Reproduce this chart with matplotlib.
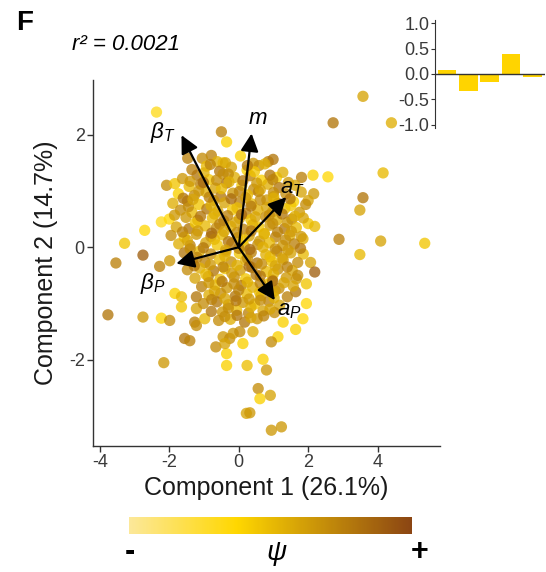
import matplotlib
matplotlib.use('Agg')
import matplotlib.pyplot as plt
from matplotlib.colors import LinearSegmentedColormap, Normalize
from matplotlib.cm import ScalarMappable

plt.rcParams['font.family'] = ['Liberation Sans', 'DejaVu Sans']
plt.rcParams['mathtext.fontset'] = 'custom'
plt.rcParams['mathtext.it'] = 'Liberation Sans:italic'
plt.rcParams['mathtext.rm'] = 'Liberation Sans'
plt.rcParams['mathtext.bf'] = 'Liberation Sans:bold'

# ---------------- data ----------------
# scattered (outer) samples
pc1_outer = [-2.37, -1.47, -2.08, -1.84, -2.23, -2.71, -3.29, -3.54, -2.76, -2.28,
             -1.99, -3.77, -2.76, -2.23, -1.99, -1.84, -1.56, -1.41, -2.16, -1.65,
             -1.65, -1.22, -1.22, -1.27, -1.22, -0.98, -0.79, -0.66, 1.95, 1.64,
             1.85, 1.64, 1.28, 1.13, 0.94, 0.70, 0.80, 0.24, -0.35, -0.35,
             0.12, 0.56, 0.61, 0.91, 0.22, 0.32, 0.94, 1.23, 0.41, -0.45,
             -0.26, -0.16, 0.03, -0.40, 3.58, 2.72, 4.40, 2.57, 4.16, 3.58,
             3.49, 2.89, 4.09, 5.36, 3.49, -0.50, -0.35, -0.79, -0.45, 0.85,
             0.99, 1.81, 2.14, 1.09, 2.16, 2.00, 2.00, 2.19, 1.85, 2.07,
             2.19, 1.95, 1.66]
pc2_outer = [2.40, 1.58, 1.10, 1.13, 0.45, 0.30, 0.07, -0.28, -0.14, -0.34,
             -0.24, -1.20, -1.24, -1.26, -1.30, -0.82, -1.62, -1.66, -2.05, -0.88,
             -1.06, -0.88, -1.09, -1.33, -1.39, -1.27, -1.14, -1.77, -1.00, -0.79,
             -1.27, -1.46, -1.33, -1.59, -1.68, -1.99, -2.18, -2.10, -2.10, -1.89,
             -1.71, -2.51, -2.69, -2.63, -2.95, -2.94, -3.25, -3.19, -1.50, -1.59,
             -1.62, -1.53, -1.50, -1.71, 2.68, 2.21, 2.21, 1.25, 1.32, 0.88,
             0.66, 0.14, 0.11, 0.07, -0.13, 2.05, 1.87, 1.63, 1.50, 1.52,
             1.56, 1.24, 1.28, 1.24, 0.95, 0.83, 0.42, 0.37, 0.15, -0.27,
             -0.44, -0.65, -0.56]
psi_outer = [0.20, 0.65, 0.60, 0.35, 0.20, 0.25, 0.35, 0.65, 0.80, 0.65,
             0.55, 0.70, 0.55, 0.25, 0.60, 0.30, 0.70, 0.65, 0.55, 0.40,
             0.35, 0.70, 0.50, 0.65, 0.60, 0.40, 0.70, 0.60, 0.25, 0.70,
             0.25, 0.30, 0.30, 0.30, 0.60, 0.30, 0.55, 0.38, 0.30, 0.30,
             0.30, 0.60, 0.30, 0.50, 0.50, 0.55, 0.55, 0.55, 0.45, 0.55,
             0.60, 0.55, 0.60, 0.50, 0.50, 0.70, 0.45, 0.25, 0.40, 0.70,
             0.50, 0.65, 0.50, 0.35, 0.40, 0.65, 0.30, 0.65, 0.30, 0.65,
             0.70, 0.65, 0.30, 0.30, 0.55, 0.50, 0.35, 0.40, 0.45, 0.50,
             0.80, 0.35, 0.55]

# dense central cloud
pc1_core = [-1.05, -0.62, 0.05, 0.42,
            -1.35, -0.93, -0.55, -0.21, 0.24, 0.58, 1.27,
            -1.62, -1.20, -0.86, -0.45, -0.12, 0.33, 0.66, 1.43,
            -1.43, -1.10, -0.68, -0.35, 0.09, 0.43, 0.84, 1.16, 1.62,
            -1.74, -1.28, -0.94, -0.52, -0.17, 0.25, 0.57, 1.01, 1.36, 1.80,
            -1.90, -1.48, -1.15, -0.72, -0.41, 0.03, 0.37, 0.81, 1.13, 1.58, 1.93,
            -1.68, -1.35, -0.92, -0.60, -0.18, 0.21, 0.55, 0.97, 1.33, 1.75,
            -2.00, -1.52, -1.18, -0.76, -0.43, 0.02, 0.35, 0.78, 1.10, 1.53, 1.86,
            -1.80, -1.43, -0.97, -0.65, -0.23, 0.13, 0.58, 0.90, 1.32, 1.66,
            -1.95, -1.57, -1.22, -0.80, -0.47, -0.03, 0.30, 0.73, 1.06, 1.47, 1.80,
            -1.73, -1.40, -0.95, -0.62, -0.20, 0.16, 0.55, 0.88, 1.27, 1.60,
            -1.57, -1.13, -0.80, -0.37, 0.02, 0.36, 0.78, 1.10, 1.50, 1.86,
            -1.33, -0.97, -0.55, -0.22, 0.20, 0.53, 0.95, 1.28, 1.70,
            -1.48, -1.12, -0.73, -0.40, 0.04, 0.38, 0.80, 1.13, 1.54,
            -1.26, -0.88, -0.54, -0.13, 0.20, 0.62, 0.96, 1.37,
            -1.07, -0.68, -0.34, 0.07, 0.40, 0.82, 1.16, 1.57,
            -0.86, -0.52, -0.10, 0.23, 0.64, 0.98, 1.40,
            -1.02, -0.63, -0.30, 0.12, 0.46, 0.87, 1.18,
            -0.47, -0.06, 0.28, 0.70, 1.03,
            -0.58, -0.24, 0.17, 0.53,
            -1.00, -0.30, 0.45, 0.90,
            -1.15, -0.50, 0.02, 0.62, 1.00,
            -1.45, -0.80, -0.05, 0.35, 0.80, 1.50,
            -1.25, -0.55, -0.10, 0.40, 0.98, 1.40,
            -1.48, -0.70, -0.30, 0.12, 0.60, 1.35,
            -1.20, -0.40, 0.25, 0.90, 1.25,
            -0.95, -0.20, 0.50, 1.00, 1.70,
            -0.70, 0.00, 0.60, 1.05,
            -0.30, 0.35, 0.90]
pc2_core = [1.58, 1.52, 1.62, 1.49,
            1.38, 1.44, 1.35, 1.42, 1.37, 1.45, 1.33,
            1.22, 1.28, 1.20, 1.30, 1.24, 1.27, 1.19, 1.15,
            1.08, 1.12, 1.05, 1.14, 1.10, 1.03, 1.12, 1.06, 1.10,
            0.95, 0.92, 0.98, 0.90, 0.96, 0.93, 0.99, 0.90, 0.95, 0.98,
            0.78, 0.82, 0.76, 0.83, 0.79, 0.80, 0.77, 0.84, 0.78, 0.81, 0.76,
            0.66, 0.62, 0.68, 0.64, 0.67, 0.60, 0.66, 0.63, 0.69, 0.62,
            0.50, 0.53, 0.48, 0.52, 0.47, 0.51, 0.49, 0.54, 0.48, 0.50, 0.52,
            0.36, 0.33, 0.38, 0.34, 0.37, 0.32, 0.36, 0.39, 0.33, 0.35,
            0.21, 0.18, 0.23, 0.19, 0.22, 0.17, 0.20, 0.24, 0.18, 0.21, 0.19,
            0.06, 0.03, 0.08, 0.04, 0.07, 0.02, 0.05, 0.08, 0.03, 0.06,
            -0.10, -0.07, -0.12, -0.08, -0.11, -0.09, -0.13, -0.07, -0.10, -0.12,
            -0.24, -0.27, -0.22, -0.26, -0.23, -0.28, -0.25, -0.22, -0.27,
            -0.40, -0.37, -0.42, -0.38, -0.41, -0.36, -0.43, -0.39, -0.41,
            -0.55, -0.52, -0.57, -0.53, -0.56, -0.51, -0.58, -0.54,
            -0.70, -0.67, -0.72, -0.68, -0.71, -0.66, -0.73, -0.69,
            -0.85, -0.82, -0.87, -0.83, -0.86, -0.81, -0.88,
            -1.00, -0.97, -1.02, -0.98, -1.01, -0.96, -1.03,
            -1.15, -1.12, -1.17, -1.13, -1.16,
            -1.30, -1.28, -1.33, -1.27,
            1.32, 1.30, 1.34, 1.28,
            1.00, 1.04, 0.99, 1.02, 0.97,
            0.72, 0.74, 0.70, 0.73, 0.71, 0.74,
            0.43, 0.41, 0.44, 0.40, 0.42, 0.44,
            0.12, 0.14, 0.10, 0.13, 0.11, 0.13,
            -0.18, -0.16, -0.20, -0.17, -0.19,
            -0.48, -0.46, -0.49, -0.47, -0.50,
            -0.78, -0.76, -0.80, -0.77,
            -1.08, -1.06, -1.10]
psi_core = [0.60, 0.45, 0.30, 0.55,
            0.65, 0.40, 0.70, 0.50, 0.30, 0.60, 0.45,
            0.55, 0.70, 0.35, 0.60, 0.45, 0.65, 0.30, 0.55,
            0.40, 0.65, 0.50, 0.75, 0.35, 0.60, 0.45, 0.70, 0.50,
            0.30, 0.60, 0.45, 0.70, 0.55, 0.40, 0.65, 0.35, 0.60, 0.50,
            0.45, 0.70, 0.35, 0.60, 0.50, 0.65, 0.40, 0.55, 0.70, 0.30, 0.60,
            0.60, 0.40, 0.70, 0.50, 0.35, 0.65, 0.45, 0.60, 0.40, 0.55,
            0.25, 0.55, 0.65, 0.40, 0.70, 0.50, 0.35, 0.60, 0.45, 0.70, 0.50,
            0.50, 0.70, 0.40, 0.60, 0.45, 0.65, 0.35, 0.55, 0.70, 0.40,
            0.60, 0.35, 0.55, 0.70, 0.40, 0.60, 0.50, 0.35, 0.65, 0.45, 0.55,
            0.45, 0.65, 0.50, 0.35, 0.70, 0.45, 0.60, 0.40, 0.55, 0.65,
            0.70, 0.40, 0.60, 0.50, 0.35, 0.65, 0.45, 0.70, 0.50, 0.40,
            0.55, 0.65, 0.40, 0.60, 0.45, 0.70, 0.35, 0.55, 0.60,
            0.60, 0.45, 0.70, 0.35, 0.55, 0.65, 0.40, 0.60, 0.50,
            0.50, 0.65, 0.40, 0.60, 0.35, 0.70, 0.45, 0.55,
            0.65, 0.40, 0.55, 0.70, 0.45, 0.35, 0.60, 0.50,
            0.45, 0.60, 0.70, 0.40, 0.55, 0.35, 0.65,
            0.60, 0.70, 0.45, 0.55, 0.35, 0.65, 0.50,
            0.55, 0.40, 0.65, 0.50, 0.60,
            0.60, 0.45, 0.70, 0.55,
            0.45, 0.60, 0.35, 0.70,
            0.55, 0.40, 0.65, 0.50, 0.60,
            0.60, 0.45, 0.40, 0.70, 0.50, 0.35,
            0.35, 0.65, 0.50, 0.45, 0.60, 0.55,
            0.50, 0.40, 0.70, 0.35, 0.55, 0.60,
            0.65, 0.45, 0.60, 0.40, 0.50,
            0.40, 0.55, 0.70, 0.45, 0.60,
            0.50, 0.65, 0.40, 0.55,
            0.60, 0.45, 0.50]

# additional central samples (overlapping layer)
pc1_core2 = [-0.82, -0.38, 0.25, 0.75,
             -1.40, -1.02, -0.64, -0.28, 0.12, 0.52, 0.98,
             -1.60, -1.32, -0.85, -0.22, 0.20, 0.62, 1.00, 1.48,
             -1.85, -1.10, -0.70, -0.32, 0.08, 0.48, 0.88, 1.25, 1.62,
             -1.62, -1.18, -0.78, -0.42, -0.05, 0.36, 0.74, 1.12, 1.52,
             -1.40, -1.02, -0.38, 0.00, 0.32, 0.70, 1.05, 1.42, 1.78,
             -1.28, -0.82, -0.45, -0.05, 0.30, 0.66, 1.05, 1.40,
             -0.86, -0.48, -0.14, 0.25, 0.62, 0.98, 1.30,
             -0.78, -0.40, -0.08, 0.30, 0.62, 1.02,
             -0.40, -0.05, 0.35, 0.72]
pc2_core2 = [1.47, 1.50, 1.45, 1.48,
             1.17, 1.15, 1.19, 1.16, 1.18, 1.14, 1.20,
             0.87, 0.85, 0.89, 0.86, 0.88, 0.84, 0.87, 0.86,
             0.57, 0.55, 0.59, 0.56, 0.58, 0.54, 0.57, 0.59, 0.55,
             0.27, 0.29, 0.25, 0.28, 0.26, 0.29, 0.24, 0.27, 0.28,
             -0.03, -0.01, -0.05, -0.02, -0.04, 0.00, -0.03, -0.05, -0.02,
             -0.33, -0.31, -0.35, -0.32, -0.34, -0.30, -0.33, -0.35,
             -0.63, -0.61, -0.65, -0.62, -0.64, -0.60, -0.63,
             -0.93, -0.91, -0.95, -0.92, -0.94, -0.90,
             -1.23, -1.21, -1.25, -1.22]
psi_core2 = [0.65, 0.50, 0.70, 0.45,
             0.55, 0.75, 0.60, 0.45, 0.70, 0.55, 0.65,
             0.70, 0.50, 0.65, 0.75, 0.55, 0.60, 0.45, 0.70,
             0.55, 0.70, 0.45, 0.65, 0.75, 0.50, 0.60, 0.70, 0.45,
             0.65, 0.55, 0.75, 0.50, 0.60, 0.70, 0.45, 0.65, 0.55,
             0.60, 0.70, 0.50, 0.65, 0.75, 0.45, 0.60, 0.55, 0.70,
             0.70, 0.55, 0.65, 0.45, 0.75, 0.60, 0.50, 0.65,
             0.55, 0.70, 0.60, 0.45, 0.65, 0.75, 0.50,
             0.65, 0.50, 0.70, 0.55, 0.60, 0.45,
             0.60, 0.70, 0.50, 0.65]

# trait loadings (arrows)
trait_labels = [r'$\beta_T$', r'$m$', r'$a_T$', r'$\beta_P$', r'$a_P$']
load_pc1 = [-1.65, 0.37, 1.37, -1.80, 1.04]
load_pc2 = [1.99, 2.02, 0.89, -0.29, -0.94]

# inset bar chart
inset_bars = [0.08, -0.33, -0.15, 0.40, -0.05]

r2_text = 'r\u00b2 = 0.0021'
xlabel = 'Component 1 (26.1%)'
ylabel = 'Component 2 (14.7%)'

# ---------------- layout ----------------
label_pos = [(-2.19, 2.03), (0.55, 2.29), (1.56, 1.05), (-2.48, -0.64), (1.47, -1.12)]

for a, b, c in [(pc1_core, pc2_core, psi_core), (pc1_core2, pc2_core2, psi_core2),
                (pc1_outer, pc2_outer, psi_outer)]:
    assert len(a) == len(b) == len(c), (len(a), len(b), len(c))

cmap = LinearSegmentedColormap.from_list(
    'psi', [(0.0, '#FCE89A'), (0.38, '#FFD700'), (1.0, '#8B4513')])
norm = Normalize(-0.12, 0.92)

fig = plt.figure(figsize=(5.46, 5.72), dpi=100)
W, H = 546, 572

ax = fig.add_axes([93 / W, 1 - 446 / H, 347 / W, 366 / H])
pc1 = pc1_outer + pc1_core + pc1_core2
pc2 = pc2_outer + pc2_core + pc2_core2
psi = psi_outer + psi_core + psi_core2
ax.scatter(pc1, pc2, c=psi, cmap=cmap, norm=norm, s=66, alpha=0.78,
           edgecolors='none', zorder=2)

for lab, lx, ly, (tx, ty) in zip(trait_labels, load_pc1, load_pc2, label_pos):
    ax.annotate('', xy=(lx, ly), xytext=(0, 0),
                arrowprops=dict(arrowstyle='-|>,head_length=0.9,head_width=0.45',
                                color='black', lw=1.6, mutation_scale=12,
                                shrinkA=0, shrinkB=0), zorder=3)
    ax.text(tx, ty, lab, fontsize=16, ha='center', va='center', zorder=4)

ax.set_xlim(-4.2, 5.8)
ax.set_ylim(-3.53, 2.97)
ax.set_xticks([-4, -2, 0, 2, 4])
ax.set_yticks([-2, 0, 2])
ax.set_xticklabels(['-4', '-2', '0', '2', '4'])
ax.set_yticklabels(['-2', '0', '2'])
for s in ['top', 'right']:
    ax.spines[s].set_visible(False)
for s in ['left', 'bottom']:
    ax.spines[s].set_color('#333333')
    ax.spines[s].set_linewidth(1.0)
ax.tick_params(colors='#333333', labelcolor='#3a3a3a', labelsize=13, length=4, width=1.0, pad=2)
ax.set_xlabel(xlabel, fontsize=18, color='#1a1a1a', labelpad=3)
ax.set_ylabel(ylabel, fontsize=18, color='#1a1a1a', labelpad=8)

# inset
axi = fig.add_axes([435 / W, 1 - 128 / H, 110 / W, 108 / H], facecolor='none')
axi.bar(range(1, len(inset_bars) + 1), inset_bars, width=0.88, color='#FFD400', zorder=2)
axi.axhline(0, color='#333333', lw=1.0, zorder=3)
axi.set_xlim(0.44, 5.6)
axi.set_ylim(-1.06, 1.06)
axi.set_yticks([1.0, 0.5, 0.0, -0.5, -1.0])
axi.set_yticklabels(['1.0', '0.5', '0.0', '-0.5', '-1.0'])
axi.set_xticks([])
for s in ['top', 'right', 'bottom']:
    axi.spines[s].set_visible(False)
axi.spines['left'].set_color('#333333')
axi.tick_params(colors='#333333', labelcolor='#3a3a3a', labelsize=13, length=3, pad=1)

# colorbar (full gradient of the psi scale)
cax = fig.add_axes([129 / W, 1 - 534 / H, 283 / W, 17 / H])
cb = fig.colorbar(ScalarMappable(norm=Normalize(0, 1), cmap=cmap), cax=cax,
                  orientation='horizontal')
cb.outline.set_visible(False)
cax.set_xticks([])
cax.set_yticks([])

fig.text(130 / W, 1 - 552 / H, '-', fontsize=22, fontweight='bold', ha='center', va='center')
fig.text(277 / W, 1 - 554 / H, r'$\psi$', fontsize=20, ha='center', va='center')
fig.text(420 / W, 1 - 552 / H, '+', fontsize=22, fontweight='bold', ha='center', va='center')

fig.text(16 / W, 1 - 23 / H, 'F', fontsize=20, fontweight='bold', ha='left', va='center')
fig.text(72 / W, 1 - 45 / H, r2_text, fontsize=16, style='italic', ha='left', va='center')

fig.savefig('out.png', dpi=100)
